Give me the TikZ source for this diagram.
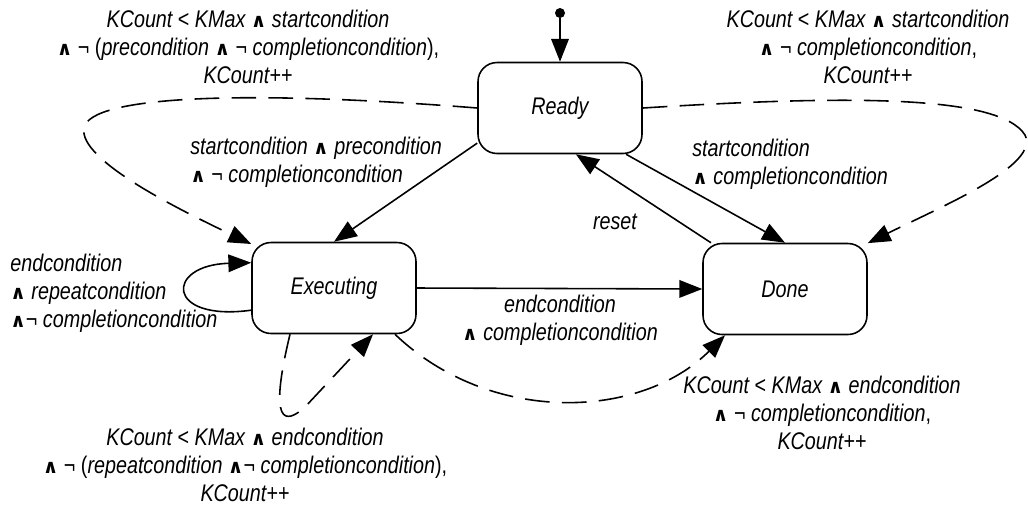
\documentclass[tikz,border=0pt]{standalone}
\usepackage{fontspec}
\setmainfont{Liberation Sans}[FakeStretch=0.82]
\newfontfamily\symfnt{DejaVu Sans}
\usetikzlibrary{arrows.meta}
\newcommand\W{{\upshape\symfnt\bfseries\scalebox{0.8}{∧}}}
\newcommand\N{{\upshape ¬}}
\newcommand\U[1]{{\upshape #1}}
\begin{document}
\begin{tikzpicture}[x=0.02cm,y=-0.02cm,
  statebox/.style={draw,rounded corners=0.38cm,minimum width=3.28cm,minimum height=1.82cm,line width=0.9pt,font=\fontsize{13.7}{16}\selectfont\itshape},
  trans/.style={-{Triangle[length=13pt,width=10pt]},line width=0.9pt},
  countloop/.style={trans,dash pattern=on 14pt off 7pt},
  lbl/.style={font=\fontsize{13.7}{16}\selectfont\itshape,inner sep=0pt}]
\useasboundingbox (0,0) rectangle (1028,512);
\node[circle,fill,inner sep=0pt,minimum size=0.2cm] (init) at (560,13) {};
\node[statebox] (ready) at (560,108) {Ready};
\node[statebox] (executing) at (334,288) {Executing};
\node[statebox] (done) at (785,289) {Done};
\draw[trans] (init) -- (ready.north);
\draw[trans] (ready.203) -- (executing.north);
\draw[trans] (ready.-35) -- (done.north);
\draw[trans] (done.148) -- (ready.-71);
\draw[trans] (executing.east) -- (done.west);
\draw[trans] (executing.195) .. controls (165,322) and (165,265) .. (executing.163);
% counted retries
\draw[countloop] (ready.west) .. controls (250,90) and (90,95) .. (84,128)
  .. controls (78,160) and (180,210) .. (executing.152);
\draw[countloop] (ready.east) .. controls (850,95) and (1000,95) .. (1025,135)
  .. controls (1040,165) and (945,205) .. (done.29);
\draw[countloop] ([xshift=-0.88cm]executing.south) .. controls (268,425) and (285,425) .. (305,407)
  -- ([xshift=0.78cm]executing.south);
\draw[countloop] ([xshift=1.22cm]executing.south) .. controls (490,425) and (640,420) .. ([xshift=-1.2cm]done.south);
% labels
\node[lbl,align=center] (lreadyloop) at (248,47) {KCount \U{<} KMax \W{} startcondition\\
  \W{} \N{} \U{(}precondition \W{} \N{} completioncondition\U{),}\\ KCount++};
\node[lbl,align=center] (rreadyloop) at (868,47) {KCount \U{<} KMax \W{} startcondition\\
  \W{} \N{} completioncondition\U{,}\\ KCount++};
\node[lbl,align=left,anchor=west] (lstart) at (190,162) {startcondition \W{} precondition\\
  \W{} \N{} completioncondition};
\node[lbl,align=left,anchor=west] (rstart) at (692,164) {startcondition\\ \W{} completioncondition};
\node[lbl] (lreset) at (615,222) {reset};
\node[lbl,align=center] (lend) at (560,320) {endcondition\\ \W{} completioncondition};
\node[lbl,align=left,anchor=west] (lrepeat) at (10,293) {endcondition\\ \W{} repeatcondition\\
  \W\N{} completioncondition};
\node[lbl,align=center] (lexecloop) at (245,465) {KCount \U{<} KMax \W{} endcondition\\
  \W{} \N{} \U{(}repeatcondition \W\N{} completioncondition\U{),}\\ KCount++};
\node[lbl,align=center] (ldoneloop) at (822,413) {KCount \U{<} KMax \W{} endcondition\\
  \W{} \N{} completioncondition\U{,}\\ KCount++};
\end{tikzpicture}
\end{document}
